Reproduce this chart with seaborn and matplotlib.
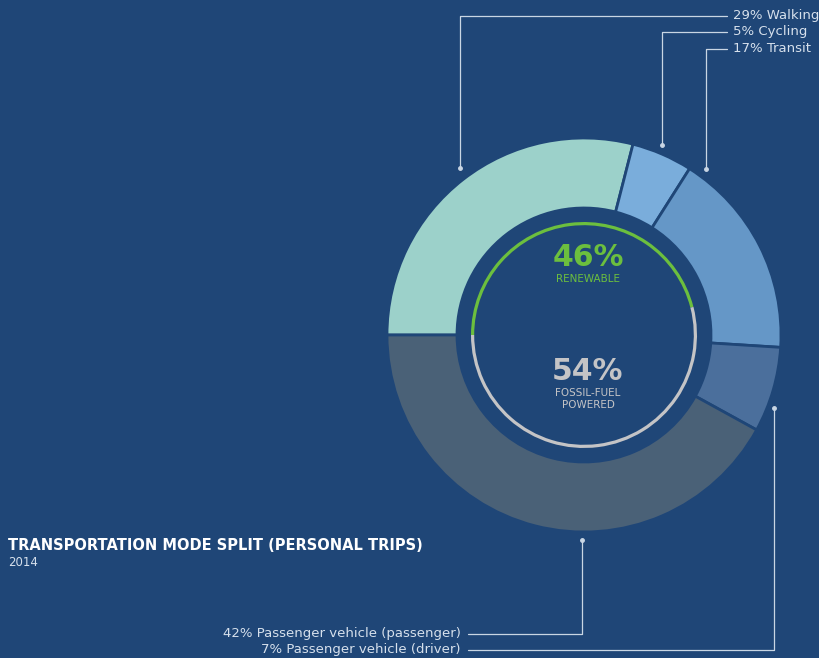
import numpy as np
import seaborn as sns
from matplotlib import pyplot as plt

# data
modes = ['Walking', 'Cycling', 'Transit', 'Passenger vehicle (driver)', 'Passenger vehicle (passenger)']
shares = [29, 5, 17, 7, 42]
energy_labels = ['RENEWABLE', 'FOSSIL-FUEL\nPOWERED']
energy_shares = [46, 54]
title = 'TRANSPORTATION MODE SPLIT (PERSONAL TRIPS)'
year = '2014'

bg = '#1f4677'
mode_colors = ['#9cd1ca', '#7aaddb', '#6597c7', '#4b6f9c', '#4a6177']
energy_colors = ['#6cbf3e', '#c4c4c6']
line_col = '#c9d6e4'
text_col = '#d6e0ec'

sns.set_style('white')
plt.rcParams['font.family'] = ['DejaVu Sans']

fig = plt.figure(figsize=(8.2, 6.58), dpi=100, facecolor=bg)
ax = fig.add_axes([0, 0, 1, 1])
ax.set_facecolor(bg)

# layout in pixel units (y measured upward)
H = 658
cx, cy = 584, H - 335
R_out, ring_w = 197, 70

ax.pie(shares, colors=mode_colors, startangle=180, counterclock=False,
       center=(cx, cy), radius=R_out, frame=True,
       wedgeprops=dict(width=ring_w, edgecolor=bg, linewidth=2))

# thin renewable / fossil ring
ax.pie(energy_shares, colors=energy_colors, startangle=180, counterclock=False,
       center=(cx, cy), radius=113, frame=True,
       wedgeprops=dict(width=3.2, linewidth=0))

ax.set_xlim(0, 820)
ax.set_ylim(0, H)
ax.set_aspect('auto')
ax.axis('off')

# centre texts
ax.text(cx + 4, H - 258, f'{energy_shares[0]}%', color=energy_colors[0], fontsize=21.5,
        fontweight='bold', ha='center', va='center')
ax.text(cx + 4, H - 279, energy_labels[0], color=energy_colors[0], fontsize=7.5,
        ha='center', va='center')
ax.text(cx + 4, H - 372, f'{energy_shares[1]}%', color=energy_colors[1], fontsize=21.5,
        fontweight='bold', ha='center', va='center')
ax.text(cx + 4, H - 399, energy_labels[1], color=energy_colors[1], fontsize=7.5,
        ha='center', va='center', linespacing=1.25)

# leader lines: anchor angle, anchor radius, label row (pixels from top)
leaders = {
    'Walking': (126.6, 208, 16),
    'Cycling': (67.7, 205, 32),
    'Transit': (53.7, 206, 49),
    'Passenger vehicle (passenger)': (-90.6, 205, 634),
    'Passenger vehicle (driver)': (-21.0, 203.5, 650),
}
for mode, share in zip(modes, shares):
    ang, r, ly = leaders[mode]
    px = cx + r * np.cos(np.radians(ang))
    py = cy + r * np.sin(np.radians(ang))
    ly = H - ly
    ax.plot(px, py, 'o', color=line_col, ms=2.5)
    if ly > cy:
        ax.plot([px, px, 727], [py, ly, ly], color=line_col, lw=0.9)
        ax.text(733, ly, f'{share}% {mode}', color=text_col, fontsize=9.5,
                ha='left', va='center')
    else:
        ax.plot([px, px, 468], [py, ly, ly], color=line_col, lw=0.9)
        ax.text(461, ly, f'{share}% {mode}', color=text_col, fontsize=9.5,
                ha='right', va='center')

# title
ax.text(8, H - 545, title, color='white', fontsize=10.5, fontweight='bold',
        ha='left', va='center')
ax.text(8, H - 562, year, color=text_col, fontsize=8.5, ha='left', va='center')

plt.savefig('out.png', dpi=100, facecolor=bg)
